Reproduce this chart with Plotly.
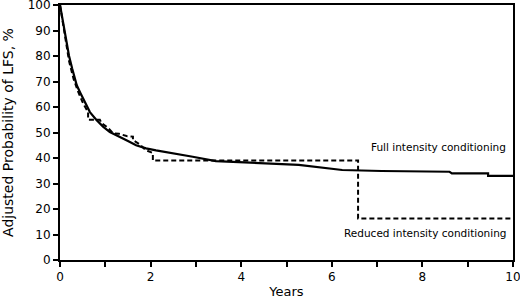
import plotly.graph_objects as go

full_t = [0, 0.05, 0.1, 0.15, 0.2, 0.27, 0.37, 0.45, 0.55, 0.66, 0.8, 0.95, 1.1, 1.32, 1.5, 1.68, 1.9, 2.12, 2.4, 2.64, 2.93, 3.44, 4.18, 5.27, 6.23, 7.1, 8.6, 8.65, 9.45, 9.45, 10]
full_s = [100, 95, 90, 85, 80, 75, 68.5, 65.5, 62, 58, 55, 52.3, 50.2, 48.4, 46.7, 45, 43.8, 43, 42.2, 41.6, 40.5, 38.8, 38.3, 37.3, 35.3, 34.9, 34.6, 34, 34, 33, 33]

red_t = [0, 0.05, 0.1, 0.15, 0.2, 0.3, 0.4, 0.51, 0.62, 0.62, 0.88, 0.92, 1.05, 1.17, 1.3, 1.47, 1.61, 1.61, 1.75, 1.9, 2.0, 2.05, 2.05, 6.58, 6.58, 10]
red_s = [100, 94, 88, 83, 78, 71, 66, 61.4, 58, 55, 55, 53.6, 52, 49.7, 49.5, 48.6, 48.4, 47, 45.5, 43, 42.5, 42, 39, 39, 16.3, 16.3]

xticks = [0, 1, 2, 3, 4, 5, 6, 7, 8, 9, 10]
xlabels = ["0", "", "2", "", "4", "", "6", "", "8", "", "10"]
yticks = [0, 10, 20, 30, 40, 50, 60, 70, 80, 90, 100]

FONT = "DejaVu Sans"

fig = go.Figure()
fig.add_trace(go.Scatter(x=full_t, y=full_s, mode="lines",
                         line=dict(color="black", width=2.2), showlegend=False))
fig.add_trace(go.Scatter(x=red_t, y=red_s, mode="lines",
                         line=dict(color="black", width=2, dash="5px,3px"), showlegend=False))

fig.add_annotation(x=10, y=44.5, xref="x", yref="y", text="Full intensity conditioning",
                   showarrow=False, xanchor="right", xshift=-5,
                   font=dict(family=FONT, size=10.5, color="black"))
fig.add_annotation(x=10, y=10.5, xref="x", yref="y", text="Reduced intensity conditioning",
                   showarrow=False, xanchor="right", xshift=-5,
                   font=dict(family=FONT, size=10.5, color="black"))

fig.update_xaxes(range=[0, 10], tickvals=xticks, ticktext=xlabels, ticks="outside",
                 ticklen=5, tickwidth=1.5, tickcolor="black", showline=True, linecolor="black",
                 linewidth=2, mirror=True, showgrid=False, zeroline=False, automargin=False,
                 ticklabeloverflow="allow",
                 title=dict(text="Years", font=dict(family=FONT, size=13, color="black"), standoff=7),
                 tickfont=dict(family=FONT, size=12, color="black"))
fig.update_yaxes(range=[0, 100], tickvals=yticks, ticks="outside",
                 ticklen=5, tickwidth=1.5, tickcolor="black", showline=True, linecolor="black",
                 linewidth=2, mirror=True, showgrid=False, zeroline=False, automargin=False,
                 ticklabeloverflow="allow",
                 title=dict(text="Adjusted Probability of LFS, %", font=dict(family=FONT, size=14, color="black"), standoff=13),
                 tickfont=dict(family=FONT, size=12, color="black"))

fig.update_layout(width=520, height=299, margin=dict(l=60, r=7, t=5, b=39),
                  plot_bgcolor="white", paper_bgcolor="white")
fig.write_html("out.html", config={"displayModeBar": False},
               post_script="document.body.style.margin='0';document.body.style.overflow='hidden';")
